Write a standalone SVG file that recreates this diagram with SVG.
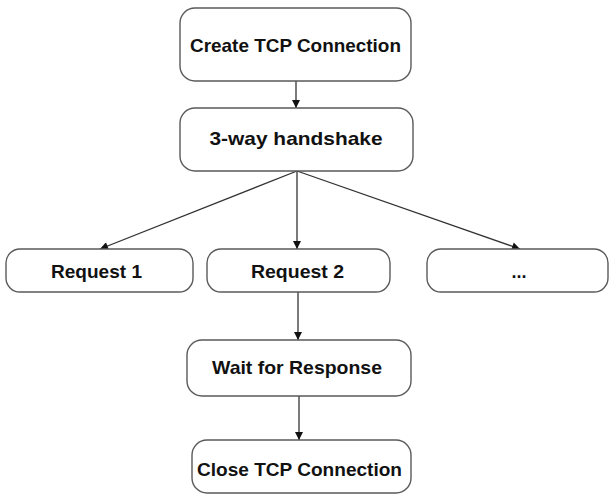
<svg xmlns="http://www.w3.org/2000/svg" width="610" height="495" viewBox="0 0 610 495">
  <defs>
    <marker id="arrow" viewBox="0 0 10 10" refX="10" refY="5" markerWidth="9" markerHeight="8" markerUnits="userSpaceOnUse" orient="auto">
      <path d="M0,0 L10,5 L0,10 Z" fill="#111"/>
    </marker>
    <style>
      .box { fill: #fff; stroke: #5a5a5a; stroke-width: 1.4; }
      .lbl { font-family: "Liberation Sans", Arial, sans-serif; font-weight: bold; font-size: 19px; fill: #111; text-anchor: middle; }
      .edge { stroke: #333; stroke-width: 1.3; fill: none; marker-end: url(#arrow); }
    </style>
  </defs>
  <rect width="610" height="495" fill="#fff"/>

  <g id="connectors">
    <line class="edge" x1="296" y1="81" x2="296" y2="108"/>
    <line class="edge" x1="297" y1="171" x2="100" y2="249"/>
    <line class="edge" x1="297" y1="171" x2="297" y2="249"/>
    <line class="edge" x1="297" y1="171" x2="520" y2="249"/>
    <line class="edge" x1="298" y1="292" x2="298" y2="340"/>
    <line class="edge" x1="299" y1="396" x2="299" y2="440"/>
  </g>

  <g id="create-tcp">
    <rect class="box" x="180" y="8" width="231" height="73" rx="15"/>
    <text class="lbl" x="295.5" y="51.5" textLength="211" lengthAdjust="spacingAndGlyphs">Create TCP Connection</text>
  </g>

  <g id="handshake">
    <rect class="box" x="180" y="108" width="233" height="63" rx="15"/>
    <text class="lbl" x="296" y="145" textLength="173" lengthAdjust="spacingAndGlyphs">3-way handshake</text>
  </g>

  <g id="request-1">
    <rect class="box" x="6" y="249" width="187" height="43" rx="14"/>
    <text class="lbl" x="96.5" y="277.5" textLength="91" lengthAdjust="spacingAndGlyphs">Request 1</text>
  </g>

  <g id="request-2">
    <rect class="box" x="207" y="249" width="183" height="43" rx="14"/>
    <text class="lbl" x="297.5" y="277.5" textLength="93" lengthAdjust="spacingAndGlyphs">Request 2</text>
  </g>

  <g id="request-more">
    <rect class="box" x="427" y="249" width="181" height="43" rx="14"/>
    <text class="lbl" x="519" y="277.5" textLength="15" lengthAdjust="spacingAndGlyphs">...</text>
  </g>

  <g id="wait-response">
    <rect class="box" x="187" y="340" width="224" height="56" rx="15"/>
    <text class="lbl" x="297" y="373.5" textLength="170" lengthAdjust="spacingAndGlyphs">Wait for Response</text>
  </g>

  <g id="close-tcp">
    <rect class="box" x="192" y="440" width="219" height="53" rx="15"/>
    <text class="lbl" x="299.5" y="475.5" textLength="205" lengthAdjust="spacingAndGlyphs">Close TCP Connection</text>
  </g>
</svg>
